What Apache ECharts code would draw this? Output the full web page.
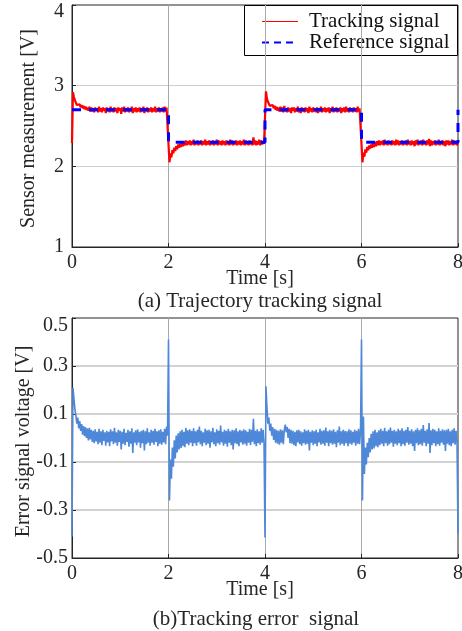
<!DOCTYPE html>
<html>
<head>
<meta charset="utf-8">
<script src="https://cdn.jsdelivr.net/npm/echarts@6/dist/echarts.min.js"></script>
<style>html,body{margin:0;padding:0;background:#fff;overflow:hidden}#c{width:462px;height:631px}</style>
</head>
<body>
<div id="c"></div>
<script>
// ---- data ----
const sampleStep = 0.02; // s, sampling period of the recorded signals
const xTicks = [0, 2, 4, 6, 8];
const sensorTicks = [1, 2, 3, 4];
const errorTicks = [-0.5, -0.3, -0.1, 0.1, 0.3, 0.5];
const legendNames = ['Tracking signal', 'Reference signal'];

// Reference (step) signal
const refTimes = [0, 2, 2, 4, 4, 6, 6, 8, 8];
const refValues = [2.7, 2.7, 2.3, 2.3, 2.7, 2.7, 2.3, 2.3, 2.7];

// Tracking (measured) signal, one value per sample
const trackingValues = [
2.29,2.92,2.86,2.82,2.79,2.76,2.78,2.74,2.77,2.73,
2.76,2.72,2.75,2.71,2.74,2.70,2.73,2.69,2.74,2.68,
2.73,2.68,2.72,2.67,2.73,2.69,2.72,2.67,2.74,2.68,
2.72,2.67,2.73,2.69,2.72,2.66,2.73,2.68,2.72,2.67,
2.74,2.68,2.72,2.67,2.73,2.68,2.72,2.66,2.73,2.69,
2.72,2.65,2.73,2.68,2.74,2.67,2.72,2.68,2.73,2.67,
2.72,2.68,2.74,2.66,2.72,2.68,2.73,2.67,2.72,2.68,
2.73,2.67,2.72,2.68,2.74,2.66,2.72,2.68,2.73,2.67,
2.72,2.68,2.73,2.67,2.72,2.68,2.74,2.67,2.72,2.68,
2.73,2.67,2.72,2.68,2.73,2.67,2.74,2.68,2.73,2.71,
2.71,2.05,2.16,2.11,2.20,2.16,2.23,2.19,2.25,2.21,
2.27,2.23,2.28,2.24,2.31,2.25,2.30,2.26,2.32,2.26,
2.31,2.27,2.32,2.26,2.31,2.27,2.33,2.26,2.31,2.27,
2.32,2.26,2.31,2.27,2.32,2.26,2.31,2.27,2.33,2.26,
2.31,2.27,2.32,2.26,2.31,2.27,2.32,2.26,2.31,2.27,
2.33,2.26,2.32,2.27,2.31,2.26,2.32,2.27,2.31,2.26,
2.32,2.27,2.31,2.26,2.33,2.27,2.32,2.26,2.31,2.27,
2.32,2.26,2.31,2.27,2.32,2.26,2.31,2.27,2.33,2.26,
2.32,2.27,2.31,2.26,2.32,2.27,2.31,2.26,2.36,2.27,
2.32,2.26,2.31,2.27,2.33,2.26,2.32,2.27,2.31,2.28,
2.29,2.93,2.84,2.80,2.78,2.75,2.77,2.73,2.76,2.72,
2.75,2.70,2.74,2.69,2.73,2.68,2.74,2.68,2.73,2.67,
2.75,2.68,2.72,2.67,2.73,2.68,2.72,2.66,2.73,2.69,
2.73,2.67,2.72,2.68,2.74,2.67,2.72,2.66,2.73,2.68,
2.72,2.67,2.73,2.68,2.72,2.66,2.74,2.68,2.72,2.67,
2.73,2.68,2.72,2.67,2.73,2.66,2.72,2.68,2.74,2.67,
2.72,2.68,2.73,2.67,2.72,2.68,2.73,2.66,2.72,2.68,
2.74,2.67,2.72,2.68,2.73,2.67,2.72,2.68,2.73,2.66,
2.72,2.68,2.73,2.67,2.74,2.68,2.72,2.67,2.73,2.68,
2.72,2.67,2.73,2.68,2.72,2.67,2.74,2.68,2.72,2.71,
2.71,2.05,2.17,2.12,2.21,2.17,2.24,2.20,2.26,2.22,
2.27,2.23,2.29,2.24,2.30,2.25,2.31,2.26,2.32,2.26,
2.31,2.27,2.32,2.26,2.33,2.27,2.31,2.26,2.32,2.27,
2.31,2.26,2.32,2.27,2.31,2.26,2.33,2.27,2.32,2.26,
2.31,2.27,2.32,2.26,2.31,2.27,2.32,2.26,2.33,2.27,
2.31,2.26,2.32,2.27,2.31,2.25,2.32,2.27,2.33,2.26,
2.31,2.27,2.32,2.26,2.33,2.27,2.31,2.26,2.32,2.27,
2.34,2.25,2.32,2.26,2.31,2.27,2.32,2.26,2.31,2.27,
2.33,2.26,2.31,2.27,2.32,2.26,2.31,2.25,2.32,2.27,
2.32,2.26,2.31,2.27,2.33,2.26,2.32,2.27,2.31,2.26,
2.30
];

// Tracking error signal, one value per sample
const errorValues = [
-0.41,0.21,0.165,0.12,0.095,0.06,0.085,0.04,0.07,0.03,
0.058,0.014,0.05,0.008,0.045,0.0,0.04,-0.01,0.042,-0.006,
0.034,-0.016,0.03,-0.022,0.036,-0.014,0.026,-0.026,0.038,-0.02,
0.028,-0.03,0.034,-0.012,0.024,-0.032,0.03,-0.018,0.026,-0.034,
0.036,-0.014,0.028,-0.026,0.042,-0.02,0.024,-0.032,0.034,-0.016,
0.03,-0.048,0.026,-0.024,0.038,-0.03,0.022,-0.016,0.034,-0.036,
0.028,-0.024,0.04,-0.062,0.024,-0.02,0.032,-0.03,0.036,-0.018,
0.026,-0.04,0.03,-0.022,0.034,-0.052,0.028,-0.026,0.04,-0.02,
0.024,-0.032,0.034,-0.02,0.03,-0.028,0.038,-0.016,0.028,-0.034,
0.032,-0.024,0.036,-0.028,0.026,-0.018,0.038,-0.026,0.048,0.01,
0.41,-0.26,-0.09,-0.17,-0.04,-0.12,-0.01,-0.085,0.01,-0.06,
0.02,-0.048,0.028,-0.042,0.034,-0.034,0.026,-0.038,0.042,-0.024,
0.032,-0.03,0.036,-0.02,0.03,-0.034,0.04,-0.022,0.028,-0.032,
0.034,-0.018,0.048,-0.026,0.03,-0.034,0.024,-0.02,0.038,-0.03,
0.032,-0.024,0.034,-0.04,0.028,-0.018,0.042,-0.026,0.024,-0.034,
0.036,-0.022,0.03,-0.028,0.052,-0.018,0.026,-0.032,0.034,-0.024,
0.03,-0.036,0.038,-0.02,0.028,-0.03,0.034,-0.048,0.032,-0.022,
0.04,-0.026,0.028,-0.034,0.034,-0.018,0.03,-0.028,0.036,-0.024,
0.032,-0.032,0.026,-0.02,0.038,-0.03,0.034,-0.016,0.08,-0.026,
0.03,-0.034,0.036,-0.022,0.028,-0.028,0.04,-0.02,0.034,-0.024,
-0.415,0.215,0.13,0.06,0.085,0.03,0.06,0.01,0.045,-0.008,
0.038,-0.02,0.034,-0.024,0.03,-0.028,0.036,-0.02,0.032,-0.026,
0.034,0.056,0.024,0.046,0.0,0.038,-0.022,0.034,-0.024,0.03,
-0.03,0.026,-0.034,0.032,-0.018,0.034,-0.026,0.028,-0.032,0.024,
-0.022,0.036,-0.028,0.03,-0.024,0.034,-0.052,0.026,-0.02,0.032,
-0.03,0.028,-0.024,0.034,-0.034,0.024,-0.018,0.038,-0.028,0.03,
-0.024,0.032,-0.032,0.044,-0.02,0.028,-0.034,0.034,-0.022,0.03,
-0.028,0.036,-0.024,0.026,-0.038,0.032,-0.02,0.048,-0.03,0.028,
-0.024,0.034,-0.032,0.03,-0.022,0.028,-0.034,0.036,-0.024,0.032,
-0.028,0.026,-0.02,0.034,-0.032,0.03,-0.024,0.038,-0.026,0.032,
0.41,-0.26,0.09,-0.15,-0.04,-0.11,-0.02,-0.08,0.0,-0.06,
0.018,-0.048,0.028,-0.044,0.034,-0.034,0.024,-0.038,0.032,-0.03,
0.038,-0.024,0.03,-0.034,0.042,-0.022,0.028,-0.032,0.034,-0.026,
0.044,-0.02,0.03,-0.036,0.034,-0.024,0.028,-0.03,0.038,-0.022,
0.032,-0.034,0.04,-0.026,0.03,-0.032,0.034,-0.02,0.046,-0.028,
0.03,-0.024,0.036,-0.034,0.028,-0.054,0.034,-0.022,0.04,-0.03,
0.032,-0.026,0.038,-0.032,0.054,-0.02,0.03,-0.034,0.036,-0.024,
0.062,-0.062,0.032,-0.03,0.038,-0.022,0.034,-0.034,0.028,-0.026,
0.04,-0.032,0.03,-0.02,0.036,-0.028,0.032,-0.054,0.034,-0.024,
0.038,-0.03,0.028,-0.034,0.034,-0.022,0.04,-0.028,0.03,-0.024,
-0.4
];

// ---- chart ----
const FONT = 'Liberation Serif';
const TXT = '#262626';
const RED = '#ff0000';
const BLUE = '#0000ff';
const sampleTimes = trackingValues.map((_, i) => Number((i * sampleStep).toFixed(2)));
const trackingData = trackingValues.map((v, i) => [sampleTimes[i], v]);
const errorData = errorValues.map((v, i) => [sampleTimes[i], v]);
const refData = refValues.map((v, i) => [refTimes[i], v]);

function xAxisCfg(gridIndex, gap) {
  return {
    gridIndex, type: 'value', min: xTicks[0], max: xTicks[xTicks.length - 1],
    interval: xTicks[1] - xTicks[0],
    name: 'Time [s]', nameLocation: 'middle', nameGap: gap, nameMoveOverlap: false,
    nameTextStyle: { fontFamily: FONT, fontSize: 20, color: TXT, padding: [0, 10, 0, 0] },
    axisLine: { onZero: false, lineStyle: { color: TXT, width: 1 } },
    axisTick: { inside: true, length: 4, lineStyle: { color: TXT } },
    axisLabel: { margin: 6, fontFamily: FONT, fontSize: 20, color: TXT, hideOverlap: false },
    splitLine: { show: true, showMinLine: false, showMaxLine: false, lineStyle: { color: '#a8a8a8', width: 1 } }
  };
}

// legend box drawn as graphic (box, sample lines, labels)
const legendGraphic = {
  type: 'group', x: 244, y: 5, z: 100,
  children: [
    { type: 'rect', shape: { x: 0.5, y: 0.5, width: 213, height: 50 }, style: { fill: '#ffffff', stroke: '#000000', lineWidth: 1 } },
    { type: 'line', shape: { x1: 18, y1: 16.5, x2: 54, y2: 16.5 }, style: { stroke: RED, lineWidth: 1 } },
    { type: 'line', shape: { x1: 18, y1: 37.5, x2: 54, y2: 37.5 }, style: { stroke: BLUE, lineWidth: 2, lineDash: [7, 5] } },
    { type: 'text', x: 65, y: 16, style: { text: legendNames[0], font: '21px "Liberation Serif"', fill: '#111', align: 'left', verticalAlign: 'middle', textAlign: 'left', textVerticalAlign: 'middle' } },
    { type: 'text', x: 65, y: 37, style: { text: legendNames[1], font: '21px "Liberation Serif"', fill: '#111', align: 'left', verticalAlign: 'middle', textAlign: 'left', textVerticalAlign: 'middle' } }
  ]
};

const chart = echarts.init(document.getElementById('c'), null, { renderer: 'canvas' });
chart.setOption({
  animation: false,
  backgroundColor: '#ffffff',
  grid: [
    { left: 72, right: 4, top: 5, height: 242, outerBoundsMode: 'none', containLabel: false, show: true, borderColor: TXT, borderWidth: 1, backgroundColor: 'transparent' },
    { left: 72, right: 4, top: 318, height: 240, outerBoundsMode: 'none', containLabel: false, show: true, borderColor: TXT, borderWidth: 1, backgroundColor: 'transparent' }
  ],
  xAxis: [xAxisCfg(0, 22), xAxisCfg(1, 22)],
  yAxis: [
    {
      gridIndex: 0, type: 'value', min: sensorTicks[0], max: sensorTicks[sensorTicks.length - 1], interval: 1,
      name: 'Sensor measurement [V]', nameLocation: 'middle', nameGap: 33, nameMoveOverlap: false,
      nameTextStyle: { fontFamily: FONT, fontSize: 20, color: TXT, padding: [0, 5, 0, 0] },
      axisLine: { show: true, lineStyle: { color: TXT } },
      axisTick: { show: true, inside: true, length: 4, lineStyle: { color: TXT } },
      axisLabel: {
        margin: 8, fontFamily: FONT, fontSize: 20, color: TXT,
        formatter: v => v === sensorTicks[sensorTicks.length - 1] ? '{top|' + v + '}' : String(v),
        rich: { top: { padding: [14, 0, 0, 0], fontFamily: FONT, fontSize: 20, color: TXT } }
      },
      splitLine: { show: true, showMinLine: false, showMaxLine: false, lineStyle: { color: '#cfcfcf', width: 1 } }
    },
    {
      gridIndex: 1, type: 'value', min: -0.5, max: 0.5,
      name: 'Error signal voltage [V]', nameLocation: 'middle', nameGap: 38, nameMoveOverlap: false,
      nameTextStyle: { fontFamily: FONT, fontSize: 20, color: TXT, padding: [0, 7, 0, 0] },
      axisLine: { show: true, lineStyle: { color: TXT } },
      axisTick: { show: true, inside: true, length: 4, customValues: errorTicks, lineStyle: { color: TXT } },
      axisLabel: {
        margin: 4, fontFamily: FONT, fontSize: 20, color: TXT, customValues: errorTicks,
        formatter: v => v === errorTicks[errorTicks.length - 1] ? '{top|' + v + '}' : String(v),
        rich: { top: { padding: [16, 0, 0, 0], fontFamily: FONT, fontSize: 20, color: TXT } }
      },
      splitLine: { show: true, showMinLine: false, showMaxLine: false, lineStyle: { color: '#d2d2d2', width: 2 } }
    }
  ],
  graphic: [
    legendGraphic,
    { type: 'text', x: 260, y: 301, style: { text: '(a) Trajectory tracking signal', font: '21px "Liberation Serif"', fill: TXT, align: 'center', verticalAlign: 'middle', textAlign: 'center', textVerticalAlign: 'middle' } },
    { type: 'text', x: 256, y: 619, style: { text: '(b)Tracking error  signal', font: '21px "Liberation Serif"', fill: TXT, align: 'center', verticalAlign: 'middle', textAlign: 'center', textVerticalAlign: 'middle' } }
  ],
  series: [
    {
      name: legendNames[0], type: 'line', xAxisIndex: 0, yAxisIndex: 0,
      data: trackingData, symbol: 'none',
      lineStyle: { color: RED, width: 2.2 }, itemStyle: { color: RED }
    },
    {
      name: legendNames[1], type: 'line', xAxisIndex: 0, yAxisIndex: 0,
      data: refData, symbol: 'none',
      lineStyle: { color: BLUE, width: 3, type: [9, 8] }, itemStyle: { color: BLUE }
    },
    {
      name: 'Tracking error', type: 'line', xAxisIndex: 1, yAxisIndex: 1,
      data: errorData, symbol: 'none',
      lineStyle: { color: '#4f88d8', width: 1.6 }, itemStyle: { color: '#4f88d8' }
    }
  ]
});
</script>
</body>
</html>
